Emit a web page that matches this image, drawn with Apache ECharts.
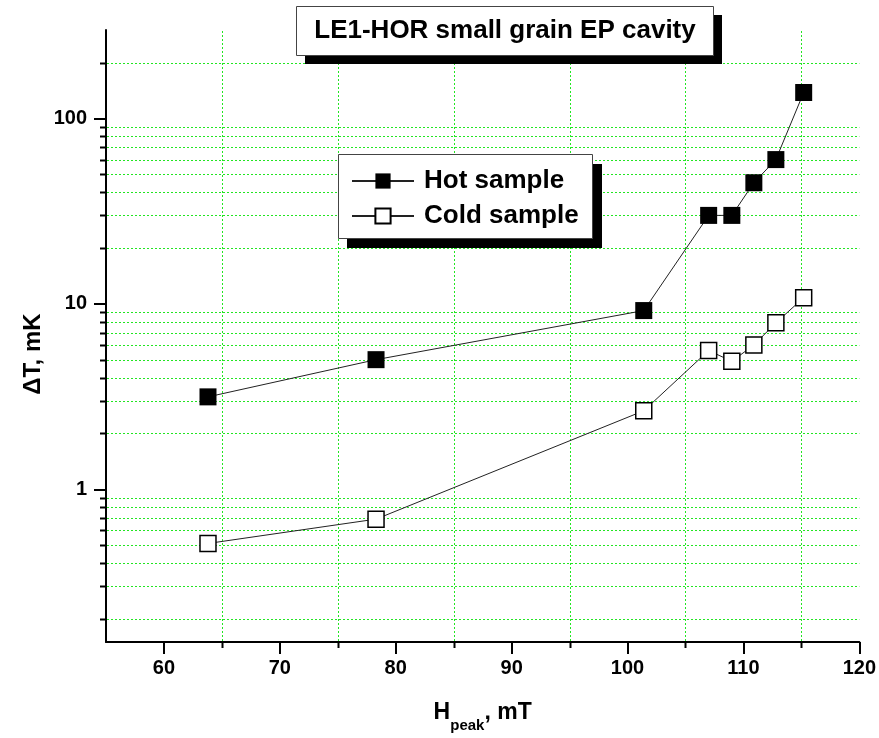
<!DOCTYPE html>
<html>
<head>
<meta charset="utf-8">
<script src="https://cdn.jsdelivr.net/npm/echarts@6/dist/echarts.min.js"></script>
<style>html,body{margin:0;padding:0;background:#fff;}#chart{width:879px;height:738px;}</style>
</head>
<body>
<div id="chart"></div>
<script>
// ---- data ----
const xValues = [63.8, 78.3, 101.4, 107.0, 109.0, 110.9, 112.8, 115.2];
const hotValues = [3.15, 5.0, 9.2, 30, 30, 45, 60, 138];
const coldValues = [0.51, 0.69, 2.65, 5.6, 4.9, 6.0, 7.9, 10.8];
const seriesNames = ['Hot sample', 'Cold sample'];
const titleText = 'LE1-HOR small grain EP cavity';
const yAxisTitle = 'ΔT, mK';
// axis ranges and minor ticks
const X_MIN = 55, X_MAX = 120;
const Y_MIN = 0.15, Y_MAX = 300;
const xMinorTicks = [65, 75, 85, 95, 105, 115];
const yMinorTicks = [0.2, 0.3, 0.4, 0.5, 0.6, 0.7, 0.8, 0.9,
                     2, 3, 4, 5, 6, 7, 8, 9,
                     20, 30, 40, 50, 60, 70, 80, 90,
                     200];

const FONT = '"Liberation Sans", Arial, sans-serif';
const GREEN = '#22e622';

const chart = echarts.init(document.getElementById('chart'), null, {renderer: 'canvas'});

function crisp(v) { return Math.round(v) + 0.5; }

function renderYGrid(params, api) {
  const v = api.value(1);
  const p0 = api.coord([X_MIN, v]);
  const p1 = api.coord([X_MAX, v]);
  const y = crisp(p0[1]);
  return {type: 'group', children: [
    {type: 'line', shape: {x1: p0[0] + 1, y1: y, x2: p1[0], y2: y},
     style: {stroke: GREEN, lineWidth: 1, lineDash: [2, 2]}},
    {type: 'line', shape: {x1: p0[0] - 6, y1: y, x2: p0[0], y2: y},
     style: {stroke: '#000', lineWidth: 2}}
  ]};
}
function renderXGrid(params, api) {
  const v = api.value(0);
  const p0 = api.coord([v, Y_MIN]);
  const p1 = api.coord([v, Y_MAX]);
  const x = crisp(p0[0]);
  return {type: 'group', children: [
    {type: 'line', shape: {x1: x, y1: p0[1] - 1, x2: x, y2: p1[1]},
     style: {stroke: GREEN, lineWidth: 1, lineDash: [2, 2]}},
    {type: 'line', shape: {x1: x, y1: p0[1], x2: x, y2: p0[1] + 6},
     style: {stroke: '#000', lineWidth: 2}}
  ]};
}

const option = {
  animation: false,
  backgroundColor: '#fff',
  grid: {left: 106, right: 19, top: 30, bottom: 96, containLabel: false},
  xAxis: {
    type: 'value', min: X_MIN, max: X_MAX,
    name: '{h|H}{s|peak}{h|, mT}',
    nameLocation: 'middle', nameGap: 59,
    nameTextStyle: {
      rich: {
        h: {fontFamily: FONT, fontWeight: 'bold', fontSize: 23, color: '#000', lineHeight: 24, verticalAlign: 'top'},
        s: {fontFamily: FONT, fontWeight: 'bold', fontSize: 15, color: '#000', lineHeight: 15, padding: [17, 0, 0, 0], verticalAlign: 'top'}
      }
    },
    axisLine: {show: true, onZero: false, lineStyle: {color: '#000', width: 2}},
    axisTick: {show: true, inside: false, length: 12, lineStyle: {color: '#000', width: 2}},
    axisLabel: {showMinLabel: false, margin: 16, color: '#000', fontFamily: FONT, fontWeight: 'bold', fontSize: 20},
    splitLine: {show: false}
  },
  yAxis: {
    type: 'log', logBase: 10, min: Y_MIN, max: Y_MAX,
    axisLine: {show: true, lineStyle: {color: '#000', width: 2}},
    axisTick: {show: true, inside: false, length: 12, lineStyle: {color: '#000', width: 2}},
    axisLabel: {showMinLabel: false, showMaxLabel: false, margin: 19, color: '#000', fontFamily: FONT, fontWeight: 'bold', fontSize: 20},
    splitLine: {show: false}
  },
  legend: {
    orient: 'vertical', left: 351, top: 168, padding: 0,
    itemWidth: 62, itemHeight: 19, itemGap: 9,
    data: seriesNames,
    textStyle: {color: '#000', fontFamily: FONT, fontWeight: 'bold', fontSize: 26, lineHeight: 26, padding: [0, 0, 0, 5]},
    z: 20
  },
  graphic: [
    {type: 'rect', shape: {x: 305, y: 15, width: 417, height: 49}, style: {fill: '#000'}, z: 100},
    {type: 'rect', shape: {x: 296.5, y: 6.5, width: 417, height: 49}, style: {fill: '#fff', stroke: '#444', lineWidth: 1}, z: 101},
    {type: 'text', x: 505, y: 31, z: 102,
     style: {text: titleText, font: 'bold 26px ' + FONT, fill: '#000', align: 'center', verticalAlign: 'middle'}},
    {type: 'rect', shape: {x: 347, y: 164, width: 255, height: 84}, style: {fill: '#000'}, z: 10},
    {type: 'rect', shape: {x: 338.5, y: 154.5, width: 254, height: 84}, style: {fill: '#fff', stroke: '#444', lineWidth: 1}, z: 11},
    {type: 'text', x: 33, y: 354, rotation: Math.PI / 2, z: 50,
     style: {text: yAxisTitle, font: 'bold 24px ' + FONT, fill: '#000', align: 'center', verticalAlign: 'middle'}}
  ],
  series: [
    {type: 'custom', name: 'ygrid', silent: true, z: 1, clip: false,
     data: yMinorTicks.map(v => [X_MIN, v]), renderItem: renderYGrid},
    {type: 'custom', name: 'xgrid', silent: true, z: 1, clip: false,
     data: xMinorTicks.map(v => [v, Y_MIN]), renderItem: renderXGrid},
    {type: 'line', name: seriesNames[0], z: 5,
     data: xValues.map((x, i) => [x, hotValues[i]]),
     symbol: 'rect', symbolSize: 17,
     itemStyle: {color: '#000', borderColor: '#000', borderWidth: 0},
     lineStyle: {color: '#222', width: 1}},
    {type: 'line', name: seriesNames[1], z: 5,
     data: xValues.map((x, i) => [x, coldValues[i]]),
     symbol: 'rect', symbolSize: 16,
     itemStyle: {color: '#fff', borderColor: '#000', borderWidth: 1.5},
     lineStyle: {color: '#222', width: 1}}
  ]
};
chart.setOption(option);
</script>
</body>
</html>
